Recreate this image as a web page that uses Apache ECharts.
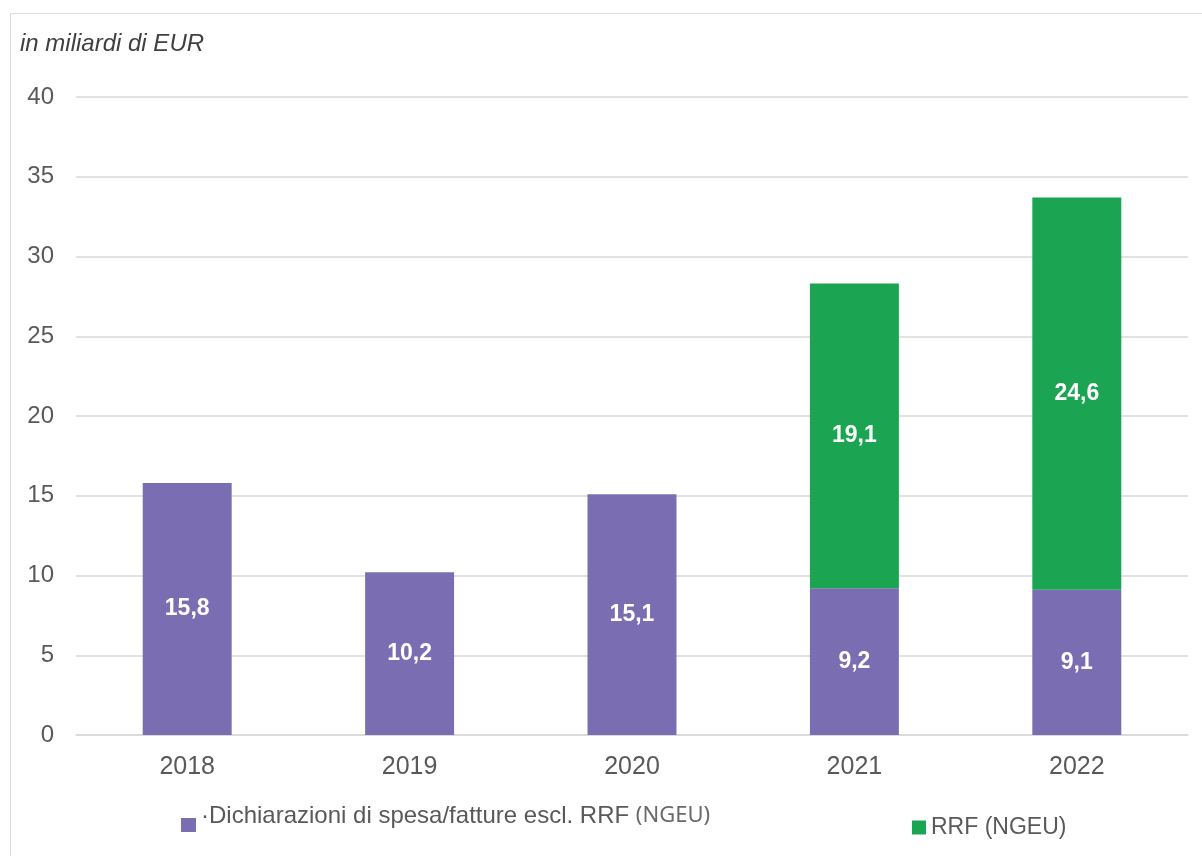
<!DOCTYPE html>
<html>
<head>
<meta charset="utf-8">
<script src="https://cdn.jsdelivr.net/npm/echarts@6/dist/echarts.min.js"></script>
<style>
  html, body { margin: 0; padding: 0; background: #fff; }
  #chart { width: 1202px; height: 856px; }
</style>
</head>
<body>
<div id="chart"></div>
<script>
// dati del grafico
const years = ['2018', '2019', '2020', '2021', '2022']
const spesaEsclRRF = [15.8, 10.2, 15.1, 9.2, 9.1]
const rrfNGEU = [null, null, null, 19.1, 24.6]
const yTicks = [0, 40, 5]

const nameSpesa = '·Dichiarazioni di spesa/fatture escl. RRF (NGEU)'
const nameRRF = 'RRF (NGEU)'

const font = 'Liberation Sans, Arial, sans-serif'

const chart = echarts.init(document.getElementById('chart'), null, {renderer: 'canvas'})

const label = {
  show: true,
  position: 'inside',
  color: '#fff',
  fontWeight: 'bold',
  fontSize: 23,
  fontFamily: font,
  formatter: p => String(p.value).replace('.', ',')
}

const option = {
  backgroundColor: '#fff',
  animation: false,
  graphic: [{
    type: 'rect',
    shape: {x: 10.5, y: 13.5, width: 1200, height: 850},
    style: {fill: 'none', stroke: '#d9d9d9', lineWidth: 1}
  }],
  title: {
    text: 'in miliardi di EUR',
    left: 15,
    top: 27,
    textStyle: {
      fontFamily: font,
      fontStyle: 'italic',
      fontWeight: 'normal',
      fontSize: 24,
      color: '#404040'
    }
  },
  legend: [{
    data: [nameSpesa],
    left: 176,
    top: 799,
    itemWidth: 15,
    itemHeight: 14,
    itemGap: 4,
    icon: 'rect',
    formatter: n => {
      const i = n.lastIndexOf('(')
      return '{a|' + n.slice(0, i) + '}{b|' + n.slice(i) + '}'
    },
    textStyle: {
      padding: [0, 0, 18, 0],
      rich: {
        a: {fontFamily: font, fontSize: 24, color: '#595959'},
        b: {fontFamily: 'Noto Sans', fontSize: 22, color: '#6a6a6a'}
      }
    }
  }, {
    data: [nameRRF],
    left: 907,
    top: 811,
    itemWidth: 14,
    itemHeight: 14,
    itemGap: 6,
    icon: 'rect',
    textStyle: {fontFamily: font, fontSize: 23, color: '#595959'}
  }],
  grid: {
    left: 76,
    right: 14,
    top: 97,
    bottom: 121
  },
  xAxis: {
    type: 'category',
    data: years,
    axisLine: {show: true, lineStyle: {color: '#d9d9d9', width: 1.5}},
    axisTick: {show: false},
    axisLabel: {
      fontFamily: font,
      fontSize: 25,
      color: '#595959',
      margin: 20
    }
  },
  yAxis: {
    type: 'value',
    min: yTicks[0],
    max: yTicks[1],
    interval: yTicks[2],
    axisLine: {show: false},
    axisTick: {show: false},
    splitLine: {lineStyle: {color: '#d9d9d9', width: 1.5}},
    axisLabel: {
      fontFamily: font,
      fontSize: 24,
      color: '#595959',
      margin: 22
    }
  },
  series: [{
    name: nameSpesa,
    type: 'bar',
    stack: 'tot',
    data: spesaEsclRRF,
    barCategoryGap: '60%',
    itemStyle: {color: '#7B6DB2'},
    label: label
  }, {
    name: nameRRF,
    type: 'bar',
    stack: 'tot',
    data: rrfNGEU,
    barCategoryGap: '60%',
    itemStyle: {color: '#1BA553'},
    label: label
  }]
}

chart.setOption(option)
</script>
</body>
</html>
